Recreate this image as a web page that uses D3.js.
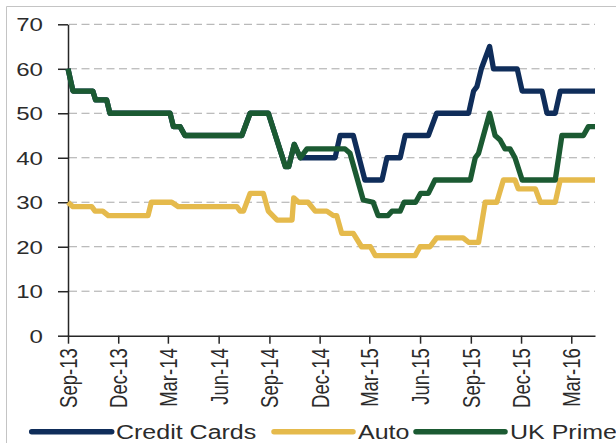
<!DOCTYPE html>
<html><head><meta charset="utf-8">
<script src="https://cdn.jsdelivr.net/npm/d3@7"></script>
<style>
html,body{margin:0;padding:0;background:#fff;}
svg{display:block;font-family:"Liberation Sans",Arial,sans-serif;}
</style>
</head><body>
<svg id="chart" width="616" height="443"></svg>
<script>
// ---------- data ----------
const seriesNames = ["Credit Cards", "Auto", "UK Prime"];
const yTickValues = [0, 10, 20, 30, 40, 50, 60, 70];
const xTickLabels = ["Sep-13","Dec-13","Mar-14","Jun-14","Sep-14","Dec-14","Mar-15","Jun-15","Sep-15","Dec-15","Mar-16"];
const dateRange = ["2013-09-01", "2016-04-13"];

const creditCards = [
  ["2013-09-01",60],["2013-09-10",55],["2013-10-16",55],["2013-10-21",53],["2013-11-10",53],
  ["2013-11-16",50],["2014-03-05",50],["2014-03-11",47],["2014-03-23",47],["2014-04-01",45],
  ["2014-07-13",45],["2014-07-28",50],["2014-08-30",50],["2014-09-30",38],["2014-10-06",38],
  ["2014-10-16",43],["2014-10-27",40],["2014-12-29",40],["2015-01-07",45],["2015-01-31",45],
  ["2015-02-21",35],["2015-03-24",35],["2015-04-02",40],["2015-04-26",40],["2015-05-05",45],
  ["2015-06-16",45],["2015-07-01",50],["2015-08-28",50],["2015-09-06",55],["2015-09-12",56],
  ["2015-09-20",60],["2015-10-05",65],["2015-10-12",60],["2015-11-24",60],["2015-12-03",55],
  ["2016-01-08",55],["2016-01-17",50],["2016-02-01",50],["2016-02-10",55],["2016-04-13",55]
];
const auto = [
  ["2013-09-01",30],["2013-09-10",29],["2013-10-14",29],["2013-10-20",28],["2013-11-03",28],
  ["2013-11-13",27],["2014-01-24",27],["2014-01-30",30],["2014-03-08",30],["2014-03-20",29],
  ["2014-07-04",29],["2014-07-10",28],["2014-07-16",28],["2014-07-28",32],["2014-08-21",32],
  ["2014-08-30",28],["2014-09-15",26],["2014-10-12",26],["2014-10-15",31],["2014-10-24",30],
  ["2014-11-10",30],["2014-11-23",28],["2014-12-14",28],["2014-12-26",27],["2015-01-01",27],
  ["2015-01-10",23],["2015-01-31",23],["2015-02-15",20],["2015-03-03",20],["2015-03-12",18],
  ["2015-05-23",18],["2015-06-01",20],["2015-06-19",20],["2015-07-01",22],["2015-08-18",22],
  ["2015-08-28",21],["2015-09-15",21],["2015-09-27",30],["2015-10-18",30],["2015-10-30",35],
  ["2015-11-20",35],["2015-11-26",33],["2015-12-27",33],["2016-01-05",30],["2016-02-01",30],
  ["2016-02-10",35],["2016-04-13",35]
];
const ukPrime = [
  ["2013-09-01",60],["2013-09-10",55],["2013-10-16",55],["2013-10-21",53],["2013-11-10",53],
  ["2013-11-16",50],["2014-03-05",50],["2014-03-11",47],["2014-03-23",47],["2014-04-01",45],
  ["2014-07-13",45],["2014-07-28",50],["2014-08-30",50],["2014-09-30",38],["2014-10-06",38],
  ["2014-10-16",43],["2014-10-27",40],["2014-11-08",42],["2015-01-16",42],["2015-01-25",41],
  ["2015-02-18",30.5],["2015-03-08",30],["2015-03-17",27],["2015-04-04",27],["2015-04-11",28],
  ["2015-04-26",28],["2015-05-03",30],["2015-05-24",30],["2015-06-02",32],["2015-06-16",32],
  ["2015-06-28",35],["2015-08-31",35],["2015-09-09",40],["2015-09-15",41],["2015-10-05",50],
  ["2015-10-15",45],["2015-10-24",44],["2015-11-02",42],["2015-11-11",42],["2015-11-20",40],
  ["2015-12-03",35],["2016-02-01",35],["2016-02-13",45],["2016-03-23",45],["2016-04-01",47],
  ["2016-04-13",47]
];

// ---------- styles ----------
const seriesColors = ["#0f2d5a", "#e5ba4c", "#1b5a32"];
const textColor = "#2b2b2b";
const stretch = 1.3;

const parseDay = d3.timeParse("%Y-%m-%d");
const parseTick = d3.timeParse("%b-%y");
const fmtTick = d3.timeFormat("%b-%y");

const svg = d3.select("#chart");
const plotLeft = 68, plotRight = 595, plotTop = 24.3, plotBottom = 335.7;

const x = d3.scaleTime().domain(dateRange.map(parseDay)).range([plotLeft, plotRight]);
const y = d3.scaleLinear().domain([0, 70]).range([plotBottom, plotTop]);

// outer border (top & left visible)
svg.append("line").attr("x1",6.5).attr("y1",6.5).attr("x2",616).attr("y2",6.5).attr("stroke","#c4c4c4").attr("stroke-width",1);
svg.append("line").attr("x1",6.5).attr("y1",6.5).attr("x2",6.5).attr("y2",443).attr("stroke","#c4c4c4").attr("stroke-width",1);

// gridlines
svg.append("g").selectAll("line").data(yTickValues.filter(v => v > 0)).join("line")
  .attr("x1", plotLeft + 1).attr("x2", plotRight)
  .attr("y1", d => y(d)).attr("y2", d => y(d))
  .attr("stroke", "#a8a8a8").attr("stroke-width", 1).attr("stroke-dasharray", "8,4.5");

// y axis
const gy = svg.append("g").attr("transform", `translate(${plotLeft},0)`)
  .call(d3.axisLeft(y).tickValues(yTickValues).tickSize(10).tickSizeOuter(0).tickPadding(0));
gy.select(".domain").attr("stroke", "#262626").attr("stroke-width", 1.5);
gy.selectAll(".tick line").attr("stroke", "#262626").attr("stroke-width", 1.5);
gy.selectAll(".tick text")
  .attr("x", null).attr("dy", "0.36em")
  .attr("transform", `translate(-25,0) scale(${stretch},1)`)
  .attr("text-anchor", "end")
  .attr("font-size", 18.5).attr("font-family", "Liberation Sans, Arial, sans-serif")
  .attr("fill", textColor);

// x axis
const xTickDates = xTickLabels.map(parseTick);
const gx = svg.append("g").attr("transform", `translate(0,${plotBottom})`)
  .call(d3.axisBottom(x).tickValues(xTickDates).tickFormat(fmtTick).tickSize(8).tickSizeOuter(0));
gx.select(".domain").attr("stroke", "#262626").attr("stroke-width", 1.5);
gx.selectAll(".tick line").attr("stroke", "#262626").attr("stroke-width", 1.5);
gx.selectAll(".tick text")
  .attr("y", null).attr("x", null).attr("dy", "0.35em")
  .attr("transform", `translate(0,12.6) scale(${stretch},1) rotate(-90)`)
  .attr("text-anchor", "end")
  .attr("font-size", 18.5).attr("font-family", "Liberation Sans, Arial, sans-serif")
  .attr("fill", textColor);

// series lines
const allSeries = [creditCards, auto, ukPrime].map((arr, i) => ({
  name: seriesNames[i], color: seriesColors[i],
  values: arr.map(([d, v]) => ({date: parseDay(d), value: v}))
}));
const line = d3.line().x(d => x(d.date)).y(d => y(d.value));
svg.append("g").selectAll("path").data(allSeries).join("path")
  .attr("d", d => line(d.values))
  .attr("fill", "none").attr("stroke", d => d.color)
  .attr("stroke-width", 5.3).attr("stroke-linejoin", "round").attr("stroke-linecap", "butt");

// legend
const legendY = 431.7;
const legendItems = [
  {x1: 31.7, x2: 111.7, tx: 116},
  {x1: 274, x2: 353, tx: 358},
  {x1: 416, x2: 505, tx: 510}
];
const lg = svg.append("g").selectAll("g").data(allSeries).join("g");
lg.append("line")
  .attr("x1", (d, i) => legendItems[i].x1).attr("x2", (d, i) => legendItems[i].x2)
  .attr("y1", legendY).attr("y2", legendY)
  .attr("stroke", d => d.color).attr("stroke-width", 5.5).attr("stroke-linecap", "round");
lg.append("text")
  .attr("transform", (d, i) => `translate(${legendItems[i].tx},${legendY}) scale(1.25,1)`)
  .attr("dy", "0.36em")
  .attr("font-size", 20).attr("fill", textColor)
  .text(d => d.name);
</script>
</body></html>
